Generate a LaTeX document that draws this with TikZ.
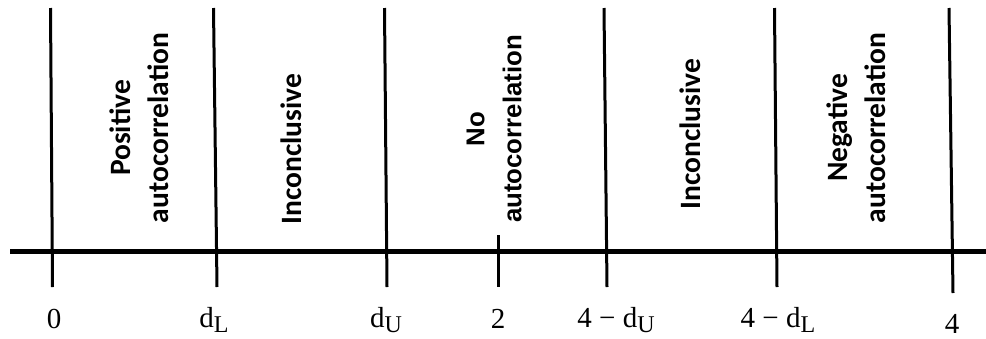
\documentclass[tikz,border=0pt]{standalone}
\usepackage{fontspec}
\setmainfont{Liberation Serif}
\newfontfamily\lblfont{Carlito}
\newfontfamily\arialfont{Liberation Sans}
\newcommand{\sbs}[1]{\raisebox{-5.5pt}{\fontsize{24}{24}\selectfont #1}}
\tikzset{
  vline/.style={line width=3pt},
  axisline/.style={line width=5pt},
  region/.style={rotate=90, align=center, inner sep=0pt, font=\lblfont\bfseries\fontsize{29.5}{38}\selectfont},
  regionb/.style={rotate=90, align=center, inner sep=0pt, font=\arialfont\bfseries\fontsize{25.8}{37}\selectfont},
  tick/.style={anchor=base, inner sep=0pt, font=\fontsize{29}{34}\selectfont}
}
\begin{document}
\begin{tikzpicture}[x=1pt,y=-1pt]
\useasboundingbox (0,0) rectangle (986,338);
% axis
\coordinate (axL) at (10,251);
\coordinate (axR) at (986,251);
\draw[axisline] (axL) -- (axR);
% vertical lines
\coordinate (t0) at (50.5,8);   \coordinate (b0) at (52.5,287);
\coordinate (t1) at (213.5,8);  \coordinate (b1) at (217,287);
\coordinate (t2) at (384.5,8);  \coordinate (b2) at (387,287);
\coordinate (t3) at (498,235);  \coordinate (b3) at (498,287);
\coordinate (t4) at (604,8);    \coordinate (b4) at (607,287);
\coordinate (t5) at (774.5,8);  \coordinate (b5) at (777,287);
\coordinate (t6) at (949,8);    \coordinate (b6) at (953,293);
\foreach \i in {0,...,6} {\draw[vline] (t\i) -- (b\i);}
% region labels
\node[region] (pos) at (139,128) {Positive\\autocorrelation};
\node[region] (inc1) at (291,149) {Inconclusive};
\node[regionb] (noac) at (494,129) {No\\autocorrelation};
\node[region] (inc2) at (690.5,134) {Inconclusive};
\node[region] (neg) at (856,128) {Negative\\autocorrelation};
% tick labels
\node[tick] (l0) at (54,328) {0};
\node[tick] (l1) at (214,327) {d\sbs{L}};
\node[tick] (l2) at (386,327) {d\sbs{U}};
\node[tick] (l3) at (498,328) {2};
\node[tick] (l4) at (616,327) {4 − d\sbs{U}};
\node[tick] (l5) at (778,327) {4 − d\sbs{L}};
\node[tick] (l6) at (952,333) {4};
\end{tikzpicture}
\end{document}
